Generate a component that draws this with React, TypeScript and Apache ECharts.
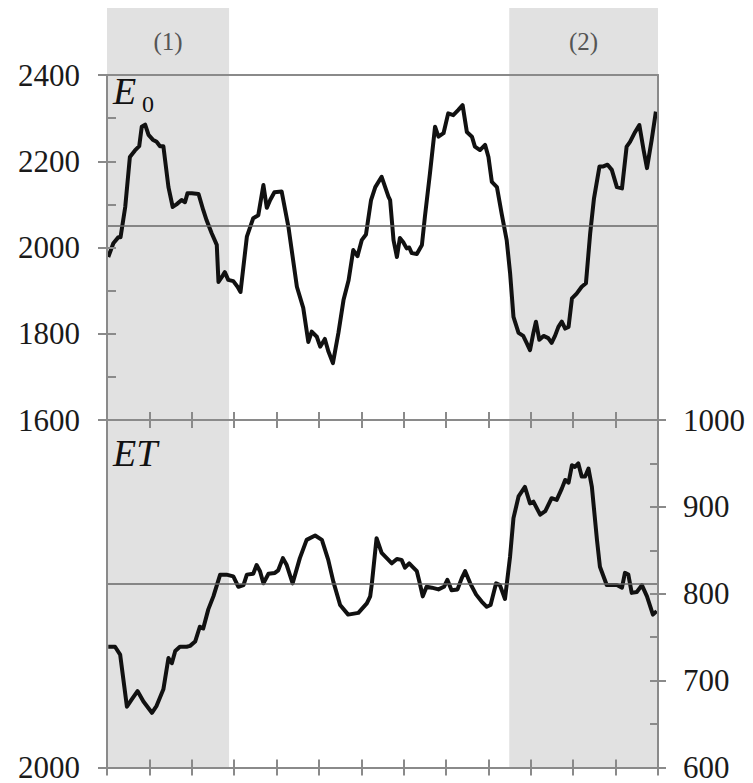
import React, { useEffect, useRef } from "react";
import * as echarts from "echarts";

const e0X = [0.3,1.5,2.7,3.2,4.3,5.4,6.6,7.6,8.2,9.0,9.8,10.8,11.7,12.5,13.3,14.5,15.5,16.4,17.6,18.4,19.0,20.0,21.6,22.7,23.5,24.7,25.9,26.3,27.3,27.8,28.6,29.8,30.8,31.5,33.0,34.5,35.7,36.9,37.7,38.5,39.5,41.2,42.8,44.8,46.3,47.5,48.3,49.5,50.3,51.4,52.2,53.3,54.6,55.8,57.0,58.1,59.1,60.1,61.1,62.3,63.3,64.8,66.4,66.8,67.6,68.4,69.1,69.9,70.7,71.3,71.9,73.1,74.3,75.0,76.2,77.4,78.2,79.4,80.5,81.7,82.9,83.9,84.9,86.1,86.8,88.0,89.2,90.0,90.8,92.0,93.1,94.3,95.1,95.9,97.1,98.2,99.0,99.8,100.6,101.2,102.0,103.0,104.1,104.9,105.7,106.5,107.3,108.1,108.9,109.7,110.8,112.0,113.0,114.0,114.9,116.2,117.1,118.1,119.1,120.3,121.5,122.6,123.4,124.6,125.6,126.6,127.4,128.5,129.5];
const e0Y = [1978,2010,2024,2024,2094,2210,2225,2235,2280,2285,2261,2250,2245,2235,2235,2140,2094,2100,2110,2105,2126,2126,2124,2087,2063,2033,2006,1920,1935,1943,1925,1922,1909,1897,2025,2068,2075,2145,2092,2110,2128,2130,2048,1909,1860,1781,1805,1793,1770,1788,1760,1732,1802,1878,1924,1994,1980,2017,2030,2110,2140,2164,2118,2110,2017,1978,2022,2012,1998,2000,1987,1985,2006,2071,2172,2280,2257,2265,2311,2307,2319,2330,2268,2257,2234,2226,2238,2210,2152,2140,2079,2017,1941,1839,1802,1795,1779,1762,1802,1828,1786,1795,1790,1779,1795,1816,1828,1812,1816,1882,1893,1909,1917,2033,2114,2188,2188,2192,2180,2140,2137,2234,2245,2268,2284,2226,2184,2249,2315];

const etX = [0.3,1.9,3.1,4.7,5.8,7.2,8.6,10.6,11.7,13.3,14.5,15.3,16.1,17.2,18.8,19.6,20.8,21.9,22.7,23.9,25.1,26.7,28.2,29.8,31.0,32.2,33.0,34.5,35.3,36.1,36.9,38.1,39.6,40.4,41.5,42.4,43.8,45.5,47.1,49.1,50.7,52.2,53.4,55.0,56.9,59.3,61.3,62.1,62.5,63.6,64.8,66.0,67.2,68.4,69.5,70.3,71.3,72.1,73.1,73.7,74.5,75.4,76.6,78.2,79.5,80.3,81.3,82.7,83.7,84.5,85.7,87.1,88.4,89.6,90.5,91.8,92.7,93.9,95.1,95.9,97.1,98.6,99.8,100.6,102.2,103.4,104.9,106.1,107.3,108.1,108.9,109.7,110.4,111.2,112.0,112.8,113.6,114.4,115.6,116.3,117.9,120.3,121.5,122.2,123.0,123.8,125.0,126.2,127.4,128.8,129.7];
const etY = [739,739,730,670,678,688,676,663,671,690,726,720,734,739,739,740,745,762,760,782,797,822,822,820,808,810,822,823,833,826,812,823,824,827,841,833,812,841,862,867,862,839,814,787,776,778,789,797,812,864,847,841,835,840,839,830,835,831,826,814,797,808,807,805,808,816,804,805,818,826,812,799,791,785,787,812,810,794,843,887,912,923,904,906,891,895,910,908,921,931,928,948,946,950,935,935,944,923,862,831,810,810,807,824,822,801,802,810,797,776,780];

const e0Mean = 2050;
const etMean = 812;
const periods = [
  { name: "(1)", from: 0, to: 28.8 },
  { name: "(2)", from: 94.9, to: 130 },
];
const xRange = { min: 0, max: 130, interval: 10 };
const e0Range = { min: 1600, max: 2400, interval: 200 };
const etRange = { min: 600, max: 1000, interval: 100 };

const FONT = "Liberation Serif";
const AX = "#8a8a8a";
const SHADE = "#e1e1e1";

export default function App() {
  const ref = useRef<HTMLDivElement>(null);
  useEffect(() => {
    if (!ref.current) return;
    const chart = echarts.init(ref.current, undefined, { renderer: "svg" });
    const L = 107, R = 95;
    const tickStyle = { color: AX, width: 2 };
    const lineAx = { show: true, onZero: false, lineStyle: { color: AX, width: 2 } };
    const noLine = { show: false, onZero: false };
    const noSplit = { show: false };
    const noLabel = { show: false };
    const labelStyle = { fontFamily: FONT, fontSize: 31, color: "#1a1a1a" };
    const plain = (v: number) => String(v);
    const areaData = periods.map((p) => [
      { xAxis: p.from, name: p.name },
      { xAxis: p.to },
    ]);
    const shadeSeries = (xi: number, yi: number, withLabel: boolean) => ({
      type: "line",
      xAxisIndex: xi,
      yAxisIndex: yi,
      data: [],
      z: 1,
      silent: true,
      markArea: {
        silent: true,
        itemStyle: { color: SHADE },
        label: withLabel
          ? { show: true, position: "inside", fontFamily: FONT, fontSize: 25, color: "#555" }
          : { show: false },
        data: areaData,
      },
    });
    const option: any = {
      animation: false,
      backgroundColor: "#fff",
      textStyle: { fontFamily: FONT },
      grid: [
        { left: L, right: R, top: 75, height: 345 },
        { left: L, right: R, top: 420, height: 348 },
        { left: L, right: R, top: 8, height: 67 },
        { left: L, right: R, top: 75, height: 345 },
        { left: L, right: R, top: 420, height: 348 },
      ],
      xAxis: [
        { gridIndex: 0, type: "value", position: "bottom", ...xRange, z: 10, axisLine: lineAx, axisTick: { show: true, inside: true, length: 8, lineStyle: tickStyle }, axisLabel: noLabel, splitLine: noSplit },
        { gridIndex: 0, type: "value", position: "top", ...xRange, z: 10, axisLine: lineAx, axisTick: { show: false }, axisLabel: noLabel, splitLine: noSplit },
        { gridIndex: 1, type: "value", position: "bottom", ...xRange, z: 10, axisLine: lineAx, axisTick: { show: true, inside: true, length: 8, lineStyle: tickStyle }, axisLabel: noLabel, splitLine: noSplit },
        { gridIndex: 2, type: "value", ...xRange, show: false },
        { gridIndex: 3, type: "value", position: "bottom", ...xRange, z: 10, axisLine: noLine, axisTick: { show: true, inside: false, length: 8, lineStyle: tickStyle }, axisLabel: noLabel, splitLine: noSplit },
        { gridIndex: 4, type: "value", position: "bottom", ...xRange, z: 10, axisLine: noLine, axisTick: { show: true, inside: false, length: 8, lineStyle: tickStyle }, axisLabel: noLabel, splitLine: noSplit },
      ],
      yAxis: [
        { gridIndex: 0, type: "value", position: "left", ...e0Range, z: 10, axisLine: lineAx, axisTick: { show: true, inside: true, length: 9, lineStyle: tickStyle }, minorTick: { show: true, splitNumber: 2, length: 9, lineStyle: tickStyle }, axisLabel: { show: true, margin: 27, formatter: plain, ...labelStyle }, splitLine: noSplit },
        { gridIndex: 0, type: "value", position: "right", ...e0Range, z: 10, axisLine: lineAx, axisTick: { show: false }, axisLabel: noLabel, splitLine: noSplit },
        { gridIndex: 1, type: "value", position: "right", ...etRange, z: 10, axisLine: lineAx, axisTick: { show: true, inside: true, length: 8, lineStyle: tickStyle }, minorTick: { show: true, splitNumber: 2, length: 8, lineStyle: tickStyle }, axisLabel: noLabel, splitLine: noSplit },
        { gridIndex: 1, type: "value", position: "left", min: 1600, max: 2000, interval: 400, inverse: true, z: 10, axisLine: lineAx, axisTick: { show: true, inside: false, length: 9, lineStyle: tickStyle }, axisLabel: { show: true, margin: 27, ...labelStyle, formatter: (v: number) => (v === 2000 ? "2000" : "") }, splitLine: noSplit },
        { gridIndex: 2, type: "value", min: 0, max: 1, show: false },
        { gridIndex: 3, type: "value", position: "left", ...e0Range, z: 10, axisLine: noLine, axisTick: { show: true, inside: false, length: 9, lineStyle: tickStyle }, axisLabel: noLabel, splitLine: noSplit },
        { gridIndex: 4, type: "value", position: "right", ...etRange, z: 10, axisLine: noLine, axisTick: { show: true, inside: false, length: 8, lineStyle: tickStyle }, axisLabel: { show: true, margin: 25, formatter: plain, ...labelStyle }, splitLine: noSplit },
      ],
      series: [
        shadeSeries(3, 4, true),
        shadeSeries(0, 0, false),
        shadeSeries(2, 2, false),
        {
          name: "E0",
          type: "line",
          xAxisIndex: 0,
          yAxisIndex: 0,
          z: 3,
          data: e0X.map((x, i) => [x, e0Y[i]]),
          showSymbol: false,
          lineStyle: { color: "#111", width: 4, join: "round" },
          markLine: {
            silent: true,
            symbol: "none",
            label: { show: false },
            lineStyle: { color: "#666", width: 1.5, type: "solid" },
            data: [{ yAxis: e0Mean }],
          },
        },
        {
          name: "ET",
          type: "line",
          xAxisIndex: 2,
          yAxisIndex: 2,
          z: 3,
          data: etX.map((x, i) => [x, etY[i]]),
          showSymbol: false,
          lineStyle: { color: "#111", width: 4, join: "round" },
          markLine: {
            silent: true,
            symbol: "none",
            label: { show: false },
            lineStyle: { color: "#666", width: 1.5, type: "solid" },
            data: [{ yAxis: etMean }],
          },
        },
      ],
      graphic: [
        { type: "text", left: 113, top: 72, z: 20, style: { text: "E", fontFamily: FONT, fontStyle: "italic", fontSize: 38, fill: "#111" } },
        { type: "text", left: 142, top: 92, z: 20, style: { text: "0", fontFamily: FONT, fontSize: 24, fill: "#111" } },
        { type: "text", left: 113, top: 434, z: 20, style: { text: "ET", fontFamily: FONT, fontStyle: "italic", fontSize: 38, fill: "#111" } },
      ],
    };
    chart.setOption(option);
    return () => chart.dispose();
  }, []);
  return <div ref={ref} style={{ position: "fixed", left: 0, top: 0, width: 753, height: 783, background: "#fff" }} />;
}
